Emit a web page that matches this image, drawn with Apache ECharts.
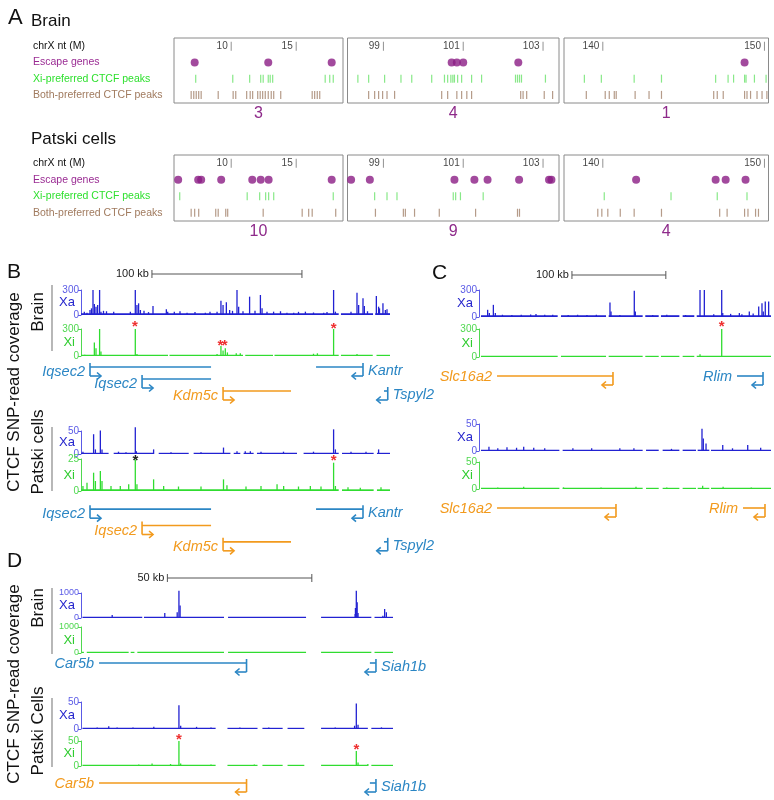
<!DOCTYPE html>
<html>
<head>
<meta charset="utf-8">
<script src="https://cdn.jsdelivr.net/npm/echarts@6/dist/echarts.min.js"></script>
<style>
  html, body { margin: 0; background: #fff; }
  #chart { width: 774px; height: 800px; }
</style>
</head>
<body>
<div id="chart"></div>
<script>
// ---------- Panel A data (chrX position in Mb) ----------
const rowsA = ['chrX nt (M)', 'Escape genes', 'Xi-preferred CTCF peaks', 'Both-preferred CTCF peaks']
const chrTicks = [10, 15, 99, 101, 103, 140, 150]
const boxRanges = [[5.6, 18.6], [98.1, 103.4], [137.6, 150.25]]

const brainEscape = [7.19, 12.85, 17.73, 100.71, 100.84, 101.0, 102.38, 148.77]
const brainXiPeaks = [7.27, 10.12, 11.42, 12.27, 12.46, 12.85, 13.0, 13.19, 17.23, 17.58, 17.85,
  98.36, 98.63, 99.03, 99.44, 99.71, 100.21, 100.53, 100.61, 100.69, 100.74, 100.78, 100.86, 100.96,
  101.21, 101.46, 102.31, 102.36, 102.41, 102.46, 103.06,
  138.86, 139.91, 141.94, 143.63, 146.98, 147.75, 148.09, 148.77, 148.86, 149.38, 150.1]
const brainBothPeaks = [6.92, 7.12, 7.31, 7.5, 7.69, 9.0, 10.15, 10.35, 11.19, 11.46, 11.65, 12.04,
  12.23, 12.42, 12.62, 12.85, 13.08, 13.27, 13.81, 16.23, 16.42, 16.62, 16.81,
  98.63, 98.78, 98.88, 98.98, 99.09, 99.28, 100.46, 100.61, 100.84, 100.96, 101.09, 101.21,
  102.44, 102.5, 102.59, 103.03, 103.24,
  138.98, 140.15, 140.4, 140.71, 140.83, 142.0, 142.86, 143.63, 146.86, 147.08, 147.45,
  148.77, 148.92, 149.14, 149.54, 149.85, 150.15]
const brainCounts = [3, 4, 1]

const patskiEscape = [5.92, 7.46, 7.69, 9.23, 11.62, 12.27, 12.88, 17.73,
  98.19, 98.66, 100.78, 101.28, 101.61, 102.4, 103.15, 103.21,
  142.06, 146.98, 147.6, 148.83]
const patskiXiPeaks = [6.04, 11.23, 12.19, 12.65, 12.88, 13.27, 17.85,
  98.78, 99.09, 99.34, 100.75, 100.81, 100.93, 101.5,
  140.09, 144.22, 147.08, 148.92]
const patskiBothPeaks = [6.92, 7.19, 7.5, 8.81, 9.0, 9.58, 9.73, 12.46, 15.46, 15.96, 16.23, 18.04,
  98.8, 99.5, 99.55, 99.78, 100.4, 101.31, 102.36, 102.41,
  139.69, 139.94, 140.31, 141.08, 141.94, 143.63, 147.23, 147.69, 148.77, 148.98, 149.45, 149.63]
const patskiCounts = [10, 9, 4]

// ---------- Panel B data (kb from left edge of view) ----------
const bScale = [47.3, 147.3]
const bBrainXaPeaks = [[2.2, 40], [4, 28], [6, 60], [7, 80], [8, 300], [8.9, 132], [10, 100], [11.1, 120],
  [12.4, 300], [13.3, 40], [15, 50], [17, 45], [21.8, 40], [32.9, 40], [36.2, 300], [37.3, 120],
  [38.4, 140], [39.6, 60], [42, 50], [45, 35], [48, 108], [56.9, 68], [57.8, 40], [62.2, 40],
  [66, 45], [70.7, 28], [76, 35], [82.9, 28], [86, 40], [90.7, 40], [93.3, 172], [94.7, 120],
  [96.9, 152], [99.1, 60], [101, 50], [104, 300], [105.1, 100], [108, 45], [112.4, 220], [116, 50],
  [119.6, 240], [120.7, 80], [124, 40], [128.4, 40], [133, 45], [137.3, 28], [141.8, 28], [145, 38],
  [149.6, 40], [155, 30], [161.8, 28], [164, 35], [168.4, 300], [169.6, 40], [180, 40], [184, 268],
  [185.1, 120], [188, 200], [188.9, 108], [191, 45], [196.9, 228], [198.4, 100], [199, 80],
  [201.3, 140], [202.9, 60], [204, 70]]
const bBrainXaCover = [[0, 171.8], [173.3, 194.7], [196.2, 206]]
const bBrainXiPeaks = [[2.5, 15], [8.9, 150], [10, 86], [12.4, 300], [13.3, 49], [36.2, 300], [37.3, 22],
  [90.7, 22], [93.3, 112], [94.7, 60], [96.2, 86], [97.6, 40], [103.5, 30], [106.2, 30],
  [155, 25], [157.6, 30], [168.4, 300], [184, 22]]
const bBrainXiCover = [[0, 58], [59, 108], [109.5, 128], [129, 171.8], [173.3, 194.5], [197, 206]]
const bBrainXiStars = [[35.9, 368, 1], [168.4, 345, 1], [92.9, 160, 1], [95.8, 160, 1]]

const bPatskiXaPeaks = [[1.3, 5], [8.4, 43], [9.6, 10], [12.9, 51], [14, 10], [25, 5], [30, 4],
  [36.2, 58], [36.9, 6], [48.4, 10], [60, 4], [80, 4], [95, 14], [104, 6], [109.5, 6], [112.9, 6],
  [120, 5], [135, 5], [155, 5], [168.4, 53.6], [169.6, 10], [180, 5], [190, 5], [198.4, 10]]
const bPatskiXaCover = [[0, 18.4], [21.8, 48.4], [51.8, 71.8], [75.1, 99.6], [101.8, 106.2],
  [108.4, 115.1], [117.3, 144], [148.4, 171.8], [174, 195.1], [197.3, 206]]
const bPatskiXiPeaks = [[1.3, 4], [4, 6.5], [8.4, 14.3], [9.6, 7.8], [12.9, 15.6], [14, 7.8], [20, 4],
  [26.2, 4], [31.8, 5.2], [36.2, 24.7], [37.3, 5.2], [48.4, 9.1], [55.1, 3.9], [65, 3.5], [80, 3.5],
  [95, 9.1], [97.3, 4.4], [110, 3.5], [120, 4], [130.7, 5.2], [135.1, 3.9], [145, 3.5], [152.9, 3.9],
  [160, 3.5], [168.4, 22.1], [169.6, 3.9], [178, 3], [186.2, 2.6], [200, 3]]
const bPatskiXiCover = [[0, 171.8], [174, 195.1], [197.3, 206]]
const bPatskiXiStars = [[36.2, 26.5, 0], [168.4, 26.5, 1]]

const bGeneNames = ['Iqsec2', 'Iqsec2', 'Kdm5c', 'Kantr', 'Tspyl2']
const bGeneStart = [6, 40.7, 94.7, 156.7, 202]
const bGeneEnd = [86.7, 86.7, 140, 188, 204.5]
const bGeneStrand = [1, 1, 1, -1, -1]
const bGeneLane = [0, 1, 2, 0, 2]
const bBrainEscapeFlag = [0, 0, 1, 0, 0]
const bPatskiEscapeFlag = [0, 1, 1, 0, 0]

// ---------- Panel C data ----------
const cScale = [99, 199]
const cBrainXaPeaks = [[9.2, 80], [11, 44], [15.3, 135], [17.4, 44], [25, 25], [35, 22], [45, 25],
  [55, 28], [60.7, 33], [70, 25], [78.5, 26], [95, 22], [105, 25], [115, 22], [125, 25], [139.5, 161],
  [140.6, 62], [150, 22], [165.4, 293], [166.5, 62], [185, 22], [200, 25], [220, 22], [235.4, 300],
  [240, 300], [250, 30], [258.5, 300], [259.6, 44], [268, 35], [277.3, 44], [280, 30], [287.9, 62],
  [292, 40], [297.9, 117], [301.4, 154], [302.8, 62], [304.9, 172], [308.5, 172]]
const cBrainCover = [[2.1, 83.8], [87.3, 135.3], [138.1, 174.3], [177.1, 191.4], [193.8, 213.4],
  [216.9, 229.3], [231.9, 311]]
const cBrainXiPeaks = [[60, 10], [120, 10], [166.5, 12], [200, 10], [235.4, 30], [258.5, 300], [280, 12]]
const cBrainXiStars = [[258.5, 368, 1]]
const cPatskiXaPeaks = [[10.6, 8], [20, 5], [29.8, 7], [40, 6], [47.6, 8], [58.3, 6], [70, 5], [100, 5],
  [120, 5], [150, 5], [165, 5], [205, 4], [237.5, 41], [238.9, 23], [241.8, 14], [259.6, 11],
  [270, 5], [286.2, 11], [300, 6]]
const cPatskiCover = [[2.1, 85.6], [89.1, 174.3], [177.9, 191.4], [195.6, 213.4], [216.9, 231.1],
  [232.9, 245.3], [247.1, 311]]
const cPatskiXiPeaks = [[20, 3], [47.6, 4], [90, 3], [130, 3], [167.2, 4], [200, 3], [238.2, 6], [260, 4], [290, 3]]

const cGeneNames = ['Slc16a2', 'Rlim']
const cBrainStart = [19.2, 274.8]
const cBrainEnd = [142.7, 302.5]
const cPatskiStart = [19.2, 281.2]
const cPatskiEnd = [145.9, 304.6]
const cGeneStrand = [-1, -1]
const cGeneLane = [0, 0]
const cBrainEscapeFlag = [1, 0]
const cPatskiEscapeFlag = [1, 1]

// ---------- Panel D data ----------
const dScale = [29.9, 79.9]
const dBrainXaPeaks = [[3.2, 30], [10.8, 120], [29, 200], [33.3, 230], [33.9, 1090], [34.3, 500],
  [94.9, 160], [95, 400], [95.3, 1090], [95.6, 630], [95.9, 200], [104.5, 90], [105.1, 360], [105.7, 230]]
const dBrainXaCover = [[0.5, 21.2], [21.8, 49.5], [50.9, 77.9], [83.1, 100.5], [101.6, 108]]
const dBrainXiPeaks = [[95.3, 30]]
const dBrainXiCover = [[0.3, 1], [2, 16.5], [17.2, 18.5], [19.5, 49.5], [50.9, 77.9], [83.1, 100.5], [101.6, 108]]
const dPatskiXaPeaks = [[5.6, 3], [9.6, 5], [12.5, 3], [18, 3], [25.2, 4], [33.9, 44], [34.5, 6], [40, 4],
  [45, 3], [55, 3], [65, 3], [88, 3], [94.7, 6], [95.3, 47], [95.9, 8], [104, 3]]
const dPatskiCover = [[0.5, 46.6], [50.7, 61.1], [62.8, 69.8], [71.5, 77.3], [83.1, 99.3], [100.5, 108]]
const dPatskiXiPeaks = [[20, 3], [24.6, 5], [31, 4], [33.9, 50], [34.5, 5], [45, 3], [60, 3],
  [95.3, 30], [95.9, 7], [99.3, 4]]
const dPatskiXiStars = [[33.9, 60, 1], [95.3, 41, 1]]

const dGeneNames = ['Car5b', 'Siah1b']
const dGeneStart = [6.25, 100]
const dGeneEnd = [57.3, 102.1]
const dGeneStrand = [-1, -1]
const dGeneLane = [0, 0]
const dBrainEscapeFlag = [0, 0]
const dPatskiEscapeFlag = [1, 0]

// ---------- styles ----------
const FONT = '"Liberation Sans", Arial, sans-serif'
const XA = { bar: '#2222d2', axis: '#5a5ae6', name: '#2525cc' }
const XI = { bar: '#30dc30', axis: '#4fd84f', name: '#2fcc2f' }
const GENE = ['#2b86c4', '#f29a1d']
const labelRight = new Set(['Kantr', 'Tspyl2', 'Siah1b'])

const grids = [], xAxes = [], yAxes = [], series = [], graphics = []

function addGrid(rect, xAxis, yAxis) {
  const gi = grids.length
  grids.push(Object.assign({ containLabel: false }, rect))
  xAxes.push(Object.assign({ gridIndex: gi }, xAxis))
  yAxes.push(Object.assign({ gridIndex: gi }, yAxis))
  return gi
}

// ---------- Panel A ----------
const boxLefts = [174, 347.5, 564]
const boxWidths = [169, 211.5, 204.5]

function addBox(i, top, height, escape, xi, both, count) {
  const [lo, hi] = boxRanges[i]
  const inBox = v => v >= lo && v <= hi
  const yLabel = i === 0
    ? {
        show: true, align: 'left', margin: boxLefts[0] - 33,
        formatter: (v, idx) => '{r' + idx + '|' + v + '}',
        rich: {
          r0: { color: '#111', fontSize: 10.5, fontFamily: FONT },
          r1: { color: '#9a2b93', fontSize: 10.5, fontFamily: FONT },
          r2: { color: '#2fe02f', fontSize: 10.5, fontFamily: FONT },
          r3: { color: '#a07a5e', fontSize: 10.5, fontFamily: FONT },
        },
      }
    : { show: false }
  const gi = addGrid(
    { left: boxLefts[i], width: boxWidths[i], top, height, show: true, borderColor: '#8a8a8a', borderWidth: 1 },
    {
      type: 'value', min: lo, max: hi,
      axisLine: { show: false }, axisTick: { show: false }, axisLabel: { show: false }, splitLine: { show: false },
      name: String(count), nameLocation: 'middle', nameGap: 3,
      nameTextStyle: { color: '#8e2a8a', fontSize: 16, fontFamily: FONT },
    },
    {
      type: 'category', inverse: true, data: rowsA,
      axisLine: { show: false }, axisTick: { show: false }, splitLine: { show: false },
      axisLabel: yLabel,
    }
  )
  const base = { type: 'scatter', xAxisIndex: gi, yAxisIndex: gi, silent: true }
  series.push(
    Object.assign({}, base, {
      symbol: 'rect', symbolSize: [1, 9], itemStyle: { color: '#777' },
      label: { show: true, position: 'left', distance: 3, formatter: p => p.value[0], fontSize: 10, color: '#111', fontFamily: FONT },
      data: chrTicks.filter(inBox).map(v => [v, 0]),
    }),
    Object.assign({}, base, {
      symbol: 'circle', symbolSize: 8, itemStyle: { color: '#8b1d84' },
      data: escape.filter(inBox).map(v => [v, 1]),
    }),
    Object.assign({}, base, {
      symbol: 'rect', symbolSize: [1.2, 8], itemStyle: { color: '#6ae26a' },
      data: xi.filter(inBox).map(v => [v, 2]),
    }),
    Object.assign({}, base, {
      symbol: 'rect', symbolSize: [1.2, 8], itemStyle: { color: '#a3826c' },
      data: both.filter(inBox).map(v => [v, 3]),
    })
  )
}

for (let i = 0; i < 3; i++) {
  addBox(i, 38, 65, brainEscape, brainXiPeaks, brainBothPeaks, brainCounts[i])
  addBox(i, 155, 66, patskiEscape, patskiXiPeaks, patskiBothPeaks, patskiCounts[i])
}

// ---------- coverage tracks ----------
function addTrack(rect, xmax, ymax, kind, peaks, cover, floor, stars, tickSize) {
  const c = kind === 'Xa' ? XA : XI
  const gi = addGrid(rect,
    { type: 'value', min: 0, max: xmax, show: false },
    {
      type: 'value', min: 0, max: ymax, interval: ymax,
      axisLine: { show: true, lineStyle: { color: c.axis, width: 1 } },
      axisTick: { show: true, length: 3, lineStyle: { color: c.axis } },
      axisLabel: { color: c.axis, fontSize: tickSize || 10, margin: 2, fontFamily: FONT, formatter: v => String(v) },
      splitLine: { show: false },
      name: kind, nameLocation: 'middle', nameRotate: 0, nameGap: 6, nameMoveOverlap: false,
      nameTextStyle: { color: c.name, fontSize: 13, fontFamily: FONT },
    })
  // low background coverage along covered stretches
  series.push({
    type: 'custom', xAxisIndex: gi, yAxisIndex: gi, silent: true, data: cover,
    renderItem: (params, api) => {
      const p0 = api.coord([api.value(0), floor])
      const p1 = api.coord([api.value(1), 0])
      const h = Math.max(p1[1] - p0[1], 1.2)
      return { type: 'rect', shape: { x: p0[0], y: p1[1] - h, width: p1[0] - p0[0], height: h }, style: { fill: c.bar } }
    },
  })
  series.push({
    type: 'bar', xAxisIndex: gi, yAxisIndex: gi, silent: true, clip: false,
    barWidth: 1.3, itemStyle: { color: c.bar }, data: peaks,
  })
  if (stars) {
    series.push({
      type: 'custom', xAxisIndex: gi, yAxisIndex: gi, silent: true, data: stars,
      renderItem: (params, api) => {
        const p = api.coord([api.value(0), api.value(1)])
        return {
          type: 'text',
          style: {
            text: '*', x: p[0], y: p[1] + 4, fill: api.value(2) ? '#ee3030' : '#222',
            font: 'bold 15px ' + FONT, textAlign: 'center', textVerticalAlign: 'middle',
            align: 'center', verticalAlign: 'middle',
          },
        }
      },
    })
  }
}

function addGenes(rect, xmax, laneCount, names, starts, ends, strands, lanes, escape) {
  const cats = []
  for (let i = 0; i < laneCount; i++) cats.push(String(i))
  const gi = addGrid(rect,
    { type: 'value', min: 0, max: xmax, show: false },
    { type: 'category', data: cats, inverse: true, show: false })
  series.push({
    type: 'custom', xAxisIndex: gi, yAxisIndex: gi, silent: true,
    data: starts.map((s, i) => [s, lanes[i]]),
    renderItem: (params, api) => {
      const i = params.dataIndex
      const col = GENE[escape[i]]
      const pS = api.coord([starts[i], lanes[i]])
      const pE = api.coord([ends[i], lanes[i]])
      const y = pS[1], xs = pS[0], xe = pE[0]
      const dir = strands[i]
      const xt = dir > 0 ? xs : xe
      const ya = y + 9
      const xh = xt + dir * 11
      const st = { stroke: col, lineWidth: 1.6, fill: null }
      const right = labelRight.has(names[i])
      return {
        type: 'group',
        children: [
          { type: 'line', shape: { x1: xs, y1: y, x2: xe, y2: y }, style: st },
          { type: 'line', shape: { x1: xt, y1: y - 4, x2: xt, y2: ya }, style: st },
          { type: 'line', shape: { x1: xt, y1: ya, x2: xh, y2: ya }, style: st },
          { type: 'polyline', shape: { points: [[xh - dir * 4, ya - 3.5], [xh, ya], [xh - dir * 4, ya + 3.5]] }, style: st },
          {
            type: 'text',
            style: {
              text: names[i], x: right ? xt + 5 : xs - 5,
              y: y + (right ? 4 : (dir > 0 ? 5 : 1)),
              fill: col, font: 'italic 14.5px ' + FONT,
              textAlign: right ? 'left' : 'right', textVerticalAlign: 'middle',
              align: right ? 'left' : 'right', verticalAlign: 'middle',
            },
          },
        ],
      }
    },
  })
}

function addScale(rect, xmax, range) {
  const gi = addGrid(rect,
    { type: 'value', min: 0, max: xmax, show: false },
    { type: 'value', min: 0, max: 1, show: false })
  series.push({
    type: 'custom', xAxisIndex: gi, yAxisIndex: gi, silent: true, data: [range],
    renderItem: (params, api) => {
      const a = api.coord([api.value(0), 0.5])
      const b = api.coord([api.value(1), 0.5])
      const st = { stroke: '#555', lineWidth: 1 }
      return {
        type: 'group',
        children: [
          { type: 'line', shape: { x1: a[0], y1: a[1], x2: b[0], y2: b[1] }, style: st },
          { type: 'line', shape: { x1: a[0], y1: a[1] - 4, x2: a[0], y2: a[1] + 4 }, style: st },
          { type: 'line', shape: { x1: b[0], y1: b[1] - 4, x2: b[0], y2: b[1] + 4 }, style: st },
          {
            type: 'text',
            style: {
              text: Math.round(api.value(1) - api.value(0)) + ' kb',
              x: a[0] - 3, y: a[1], fill: '#222', font: '11px ' + FONT,
              textAlign: 'right', textVerticalAlign: 'middle', align: 'right', verticalAlign: 'middle',
            },
          },
        ],
      }
    },
  })
}

// Panel B
const B = { left: 81, width: 309 }, bMax = 206
addScale(Object.assign({ top: 269, height: 10 }, B), bMax, bScale)
addTrack(Object.assign({ top: 290, height: 25 }, B), bMax, 300, 'Xa', bBrainXaPeaks, bBrainXaCover, 22)
addTrack(Object.assign({ top: 329, height: 27 }, B), bMax, 300, 'Xi', bBrainXiPeaks, bBrainXiCover, 10, bBrainXiStars)
addGenes(Object.assign({ top: 361, height: 36 }, B), bMax, 3, bGeneNames, bGeneStart, bGeneEnd, bGeneStrand, bGeneLane, bBrainEscapeFlag)
addTrack(Object.assign({ top: 431, height: 23 }, B), bMax, 50, 'Xa', bPatskiXaPeaks, bPatskiXaCover, 1.6)
addTrack(Object.assign({ top: 459, height: 32 }, B), bMax, 25, 'Xi', bPatskiXiPeaks, bPatskiXiCover, 1.3, bPatskiXiStars)
addGenes(Object.assign({ top: 501, height: 49 }, B), bMax, 3, bGeneNames, bGeneStart, bGeneEnd, bGeneStrand, bGeneLane, bPatskiEscapeFlag)

// Panel C
const C = { left: 479, width: 292 }, cMax = 311
addScale(Object.assign({ top: 270, height: 10 }, C), cMax, cScale)
addTrack(Object.assign({ top: 290, height: 27 }, C), cMax, 300, 'Xa', cBrainXaPeaks, cBrainCover, 20)
addTrack(Object.assign({ top: 329, height: 28 }, C), cMax, 300, 'Xi', cBrainXiPeaks, cBrainCover, 10, cBrainXiStars)
addGenes(Object.assign({ top: 370, height: 12 }, C), cMax, 1, cGeneNames, cBrainStart, cBrainEnd, cGeneStrand, cGeneLane, cBrainEscapeFlag)
addTrack(Object.assign({ top: 424, height: 27 }, C), cMax, 50, 'Xa', cPatskiXaPeaks, cPatskiCover, 2.5)
addTrack(Object.assign({ top: 462, height: 27 }, C), cMax, 50, 'Xi', cPatskiXiPeaks, cPatskiCover, 2)
addGenes(Object.assign({ top: 502, height: 12 }, C), cMax, 1, cGeneNames, cPatskiStart, cPatskiEnd, cGeneStrand, cGeneLane, cPatskiEscapeFlag)

// Panel D
const D = { left: 81, width: 312 }, dMax = 108
addScale(Object.assign({ top: 573, height: 10 }, D), dMax, dScale)
addTrack(Object.assign({ top: 593, height: 25 }, D), dMax, 1000, 'Xa', dBrainXaPeaks, dBrainXaCover, 40, null, 9)
addTrack(Object.assign({ top: 627, height: 26 }, D), dMax, 1000, 'Xi', dBrainXiPeaks, dBrainXiCover, 40, null, 9)
addGenes(Object.assign({ top: 657, height: 12 }, D), dMax, 1, dGeneNames, dGeneStart, dGeneEnd, dGeneStrand, dGeneLane, dBrainEscapeFlag)
addTrack(Object.assign({ top: 702, height: 27 }, D), dMax, 50, 'Xa', dPatskiXaPeaks, dPatskiCover, 2)
addTrack(Object.assign({ top: 741, height: 25 }, D), dMax, 50, 'Xi', dPatskiXiPeaks, dPatskiCover, 2, dPatskiXiStars)
addGenes(Object.assign({ top: 777, height: 12 }, D), dMax, 1, dGeneNames, dGeneStart, dGeneEnd, dGeneStrand, dGeneLane, dPatskiEscapeFlag)

// ---------- static text and separators ----------
function txt(x, y, text, size, opt) {
  opt = opt || {}
  const align = opt.align || 'left'
  const valign = opt.valign || 'top'
  return {
    type: 'text', x, y, rotation: opt.rot || 0, silent: true,
    style: {
      text, font: size + 'px ' + FONT, fill: opt.color || '#111',
      textAlign: align, textVerticalAlign: valign, align, verticalAlign: valign,
    },
  }
}
function vline(x, y1, y2) {
  return { type: 'line', silent: true, shape: { x1: x, y1, x2: x, y2 }, style: { stroke: '#888', lineWidth: 1.2 } }
}
const rot = { rot: Math.PI / 2, align: 'center', valign: 'middle' }
graphics.push(
  txt(8, 7, 'A', 22), txt(31, 13, 'Brain', 17), txt(31, 131, 'Patski cells', 17),
  txt(7, 262, 'B', 21), txt(432, 263, 'C', 21), txt(7, 551, 'D', 21),
  txt(14, 392, 'CTCF SNP-read coverage', 17, rot),
  txt(14, 684, 'CTCF SNP-read coverage', 17, rot),
  txt(38, 312, 'Brain', 17, rot), txt(38, 452, 'Patski cells', 17, rot),
  txt(38, 608, 'Brain', 17, rot), txt(38, 731, 'Patski Cells', 17, rot),
  vline(52, 285, 351), vline(52, 427, 491), vline(52, 588, 654), vline(52, 698, 767)
)

const chart = echarts.init(document.getElementById('chart'))
chart.setOption({
  animation: false,
  backgroundColor: '#fff',
  textStyle: { fontFamily: FONT },
  grid: grids,
  xAxis: xAxes,
  yAxis: yAxes,
  series,
  graphic: graphics,
})
</script>
</body>
</html>
